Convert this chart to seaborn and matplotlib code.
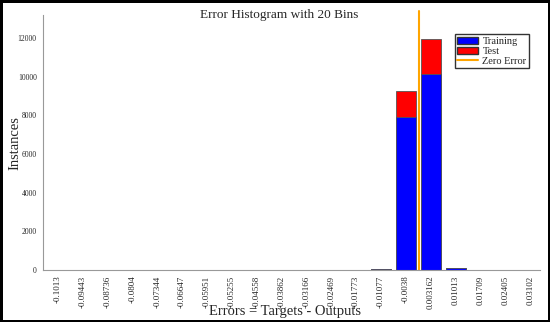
import numpy as np
import pandas as pd
import matplotlib.pyplot as plt
import seaborn as sns
from matplotlib.patches import Patch
from matplotlib.lines import Line2D

# bin centres (as printed on the x axis) and counts per bin
bin_labels = ['-0.1013', '-0.09443', '-0.08736', '-0.0804', '-0.07344', '-0.06647',
              '-0.05951', '-0.05255', '-0.04558', '-0.03862', '-0.03166', '-0.02469',
              '-0.01773', '-0.01077', '-0.0038', '0.003162', '0.01013', '0.01709',
              '0.02405', '0.03102']
training = [0, 0, 0, 0, 0, 0, 0, 0, 0, 0, 0, 0, 0, 40, 7900, 10150, 90, 0, 0, 0]
test = [0, 0, 0, 0, 0, 0, 0, 0, 0, 0, 0, 0, 0, 10, 1350, 1800, 20, 0, 0, 0]

df = pd.DataFrame({'bin': bin_labels, 'training': training, 'test': test})
df['total'] = df['training'] + df['test']

sns.set_style('white')
plt.rcParams['font.family'] = ['Liberation Serif', 'DejaVu Serif']

fig = plt.figure(figsize=(5.5, 3.22), dpi=100, linewidth=2.5, edgecolor='black')
ax = fig.add_axes([0.078, 0.1615, 0.904, 0.792])

sns.barplot(data=df, x='bin', y='total', color='#ff0000', saturation=1,
            edgecolor='#555555', linewidth=0.6, width=0.8, ax=ax)
sns.barplot(data=df, x='bin', y='training', color='#0000ff', saturation=1,
            edgecolor='#555555', linewidth=0.6, width=0.8, ax=ax)

# zero error line, placed between the two bin centres around 0
c = np.array([float(s) for s in bin_labels])
i = np.searchsorted(c, 0.0) - 1
zero_pos = i + (0 - c[i]) / (c[i + 1] - c[i])
ax.plot([zero_pos, zero_pos], [0, 13400], color='#ffa500', linewidth=1.5, clip_on=False)

ax.set_xlim(-0.6, 19.4)
ax.set_ylim(0, 13200)
ax.set_yticks([0, 2000, 4000, 6000, 8000, 10000, 12000])
ax.set_yticklabels(['0', '2000', '4000', '6000', '8000', '10000', '12000'])
ax.tick_params(axis='y', labelsize=5.5, length=4, color='#999999', direction='out', pad=0.5)
ax.tick_params(axis='x', labelsize=6.5, length=4, color='#999999', direction='inout',
               rotation=90, pad=2)
for side in ['top', 'right']:
    ax.spines[side].set_visible(False)
for side in ['left', 'bottom']:
    ax.spines[side].set_color('#999999')
    ax.spines[side].set_linewidth(0.8)

ax.set_xlabel('')
ax.set_ylabel('')
fig.text(0.507, 0.953, 'Error Histogram with 20 Bins', fontsize=9.5, ha='center', va='center')
fig.text(0.028, 0.556, 'Instances', rotation=90, fontsize=10.5, ha='center', va='center')
fig.text(0.518, 0.034, 'Errors = Targets - Outputs', fontsize=10.5, ha='center', va='center')

handles = [Patch(facecolor='#0000ff', edgecolor='#333333', label='Training'),
           Patch(facecolor='#ff0000', edgecolor='#333333', label='Test'),
           Line2D([0], [0], color='#ffa500', lw=1.5, label='Zero Error')]
leg = ax.legend(handles=handles, loc='upper right', bbox_to_anchor=(0.978, 0.925),
                fontsize=7.5, frameon=True, fancybox=False, borderpad=0.25,
                labelspacing=0.05, handlelength=2.0, handletextpad=0.4,
                borderaxespad=0)
leg.get_frame().set_edgecolor('black')
leg.get_frame().set_linewidth(1)

fig.savefig('out.png', dpi=100, edgecolor=fig.get_edgecolor())
